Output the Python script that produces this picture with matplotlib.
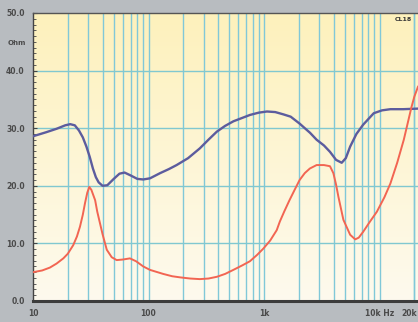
import numpy as np
import matplotlib
matplotlib.use("Agg")
import matplotlib.pyplot as plt
from matplotlib.ticker import FixedLocator, NullFormatter

# impedance curve (blue), Hz / Ohm
blue_f = [10, 13, 16, 19, 21, 23, 25, 27, 29, 31, 33, 35, 37, 40, 44, 50, 56, 62, 70,
          80, 90, 103, 126, 150, 175, 220, 278, 330, 390, 460, 543, 650, 755, 900, 1060,
          1250, 1470, 1700, 2030, 2500, 2850, 3300, 3720, 4200, 4700, 5100, 5560, 6300,
          7200, 8900, 10500, 12400, 16000, 21500]
blue_z = [28.6, 29.3, 29.9, 30.5, 30.7, 30.5, 29.6, 28.4, 26.8, 25.0, 23.0, 21.5, 20.6,
          20.0, 20.1, 21.2, 22.1, 22.3, 21.8, 21.2, 21.1, 21.3, 22.2, 22.9, 23.6, 24.8,
          26.5, 28.0, 29.4, 30.4, 31.2, 31.8, 32.3, 32.7, 32.9, 32.8, 32.4, 32.0, 30.8,
          29.2, 28.0, 27.0, 25.9, 24.5, 24.0, 24.8, 26.8, 29.0, 30.6, 32.6, 33.1, 33.3,
          33.3, 33.4]

# second curve (red)
red_f = [10, 12, 14, 16, 18.3, 20, 22.3, 24, 25.5, 27, 28.2, 29.5, 30.7, 32, 34.5, 36,
         38, 40, 43.5, 48, 53, 60, 69, 78, 90, 103, 134, 160, 188, 230, 278, 330, 390,
         460, 542, 650, 754, 870, 986, 1130, 1287, 1370, 1500, 1660, 1850, 2030, 2250,
         2490, 2850, 3300, 3720, 3980, 4200, 4400, 4860, 5560, 6150, 6600, 7200, 8200,
         9470, 11000, 12400, 14200, 16200, 18900, 20000, 21500]
red_z = [5.0, 5.3, 5.8, 6.5, 7.4, 8.2, 9.7, 11.2, 12.9, 15.0, 17.0, 18.8, 19.8, 19.3,
         17.5, 15.5, 13.5, 11.6, 8.9, 7.6, 7.1, 7.2, 7.4, 6.9, 6.0, 5.4, 4.7, 4.3, 4.1,
         3.9, 3.8, 3.9, 4.2, 4.7, 5.4, 6.2, 6.9, 8.0, 9.1, 10.5, 12.3, 13.8, 15.6, 17.5,
         19.4, 21.0, 22.2, 23.0, 23.6, 23.6, 23.4, 22.2, 20.2, 18.1, 14.1, 11.5, 10.7,
         11.0, 12.0, 13.7, 15.5, 18.0, 20.4, 24.0, 28.0, 33.7, 35.5, 37.2]

y_ticks = [0, 10, 20, 30, 40, 50]
y_labels = ["0.0", "10.0", "20.0", "30.0", "40.0", "50.0"]
x_ticks = [10, 100, 1000, 10000]
x_labels = ["10", "100", "1k", "10k Hz"]

fig = plt.figure(figsize=(4.18, 3.22), dpi=100, facecolor="#b8bcc0")
ax = fig.add_axes([33 / 418, 21 / 322, 1 - 33 / 418, 288 / 322])
ax.set_xscale("log")
ax.set_xlim(10, 21500)
ax.set_ylim(0, 50)

# yellow to cream background
grad = np.linspace(0, 1, 256).reshape(-1, 1)
cmap = matplotlib.colors.LinearSegmentedColormap.from_list("bg", ["#fefaee", "#fdf1bc"])
ax.imshow(grad, cmap=cmap, aspect="auto", origin="lower", extent=[0, 1, 0, 1],
          transform=ax.transAxes, zorder=0)

# grid
vlines = [m * 10 ** d for d in range(1, 5) for m in range(1, 10)] + [20000]
for v in vlines:
    if 10 < v <= 20000:
        ax.axvline(v, color="#80c8d8", lw=1.0, zorder=1)
for h in [10, 20, 30, 40]:
    ax.axhline(h, color="#80c8d0", lw=1.0, zorder=1)

ax.plot(blue_f, blue_z, color="#5c5c9e", lw=1.7, zorder=3)
ax.plot(red_f, red_z, color="#f26552", lw=1.4, zorder=3)

ax.spines["right"].set_visible(False)
ax.spines["bottom"].set_linewidth(2.2)
ax.spines["bottom"].set_color("#3c3c3c")
ax.spines["left"].set_linewidth(1.0)
ax.spines["left"].set_color("#444444")
ax.spines["top"].set_linewidth(1.0)
ax.spines["top"].set_color("#555555")

ax.yaxis.set_major_locator(FixedLocator(y_ticks))
ax.set_yticklabels(y_labels)
ax.yaxis.set_minor_locator(FixedLocator(np.arange(0, 51, 1)))
ax.tick_params(axis="y", which="major", direction="in", length=3, width=0.8,
               colors="#444444", labelsize=5.5, pad=6)
ax.tick_params(axis="y", which="minor", direction="in", length=2, width=0.6, color="#444444")
for lab in ax.get_yticklabels():
    lab.set_fontweight("bold")
    lab.set_color("#4a4a4a")

ax.xaxis.set_major_locator(FixedLocator(x_ticks))
ax.xaxis.set_minor_formatter(NullFormatter())
ax.xaxis.set_minor_locator(FixedLocator([]))
ax.set_xticklabels(x_labels)
ax.tick_params(axis="x", which="major", length=0, labelsize=5.5, pad=6, colors="#4a4a4a")
for lab in ax.get_xticklabels():
    lab.set_fontweight("bold")

# "20k" sits at the right edge of the frame
fig.text(417 / 418, 1 - 313 / 322, "20k", fontsize=5.5, color="#4a4a4a", ha="right",
         va="center", fontweight="bold")
fig.text(17 / 418, 1 - 43 / 322, "Ohm", fontsize=5, color="#4a4a4a", ha="center",
         va="center", fontweight="bold")
ax.text(0.962, 0.985, "CL18", transform=ax.transAxes, fontsize=4.5, color="#333333",
        ha="center", va="top", fontweight="bold")

fig.savefig("out.png", dpi=100, facecolor=fig.get_facecolor())
